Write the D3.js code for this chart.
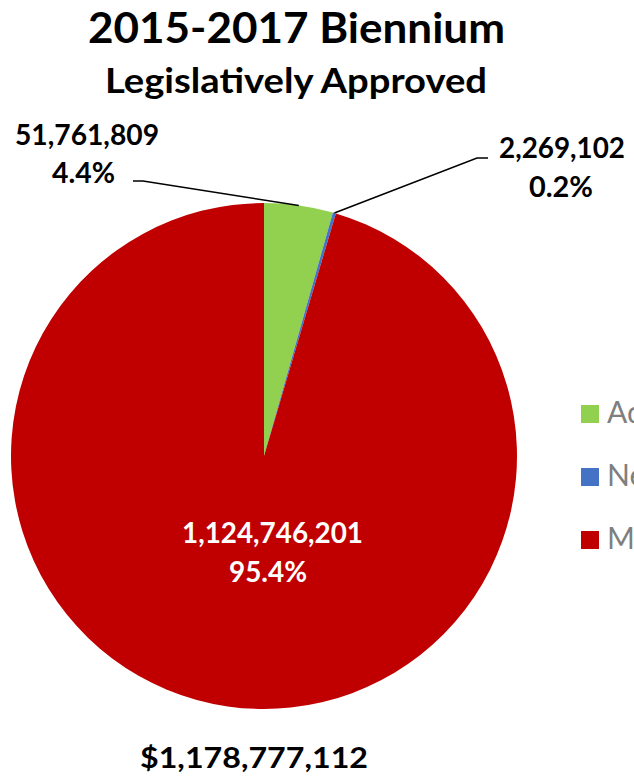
<!DOCTYPE html>
<html>
<head>
<meta charset="utf-8">
<script src="https://cdn.jsdelivr.net/npm/d3@7"></script>
<style>
  html, body { margin: 0; padding: 0; background: #fff; overflow: hidden; }
  svg { display: block; }
  text { font-family: Lato, "Open Sans", sans-serif; }
</style>
</head>
<body>
<script>
// Budget components, 2015-2017 biennium (legislatively approved)
const categories = ["Administration", "New Initiatives", "Medical Assistance"];
const values = [51761809, 2269102, 1124746201];
const titleText = "2015-2017 Biennium";
const subtitleText = "Legislatively Approved";

const W = 634, H = 779;
const cx = 264, cy = 456, R = 253;

const svg = d3.select("body").append("svg")
  .attr("width", W).attr("height", H)
  .attr("viewBox", `0 0 ${W} ${H}`);

svg.append("rect").attr("width", W).attr("height", H).attr("fill", "#fff");

const color = d3.scaleOrdinal()
  .domain(categories)
  .range(["#92D050", "#4472C4", "#C00000"]);

const total = d3.sum(values);
const fmtNum = d3.format(",");
const fmtPct = d3.format(".1%");

const rows = categories.map((c, i) => ({ name: c, value: values[i] }));

const pie = d3.pie().sort(null).value(d => d.value);
const arcs = pie(rows);
const arc = d3.arc().innerRadius(0).outerRadius(R);

const g = svg.append("g").attr("transform", `translate(${cx},${cy})`);
g.selectAll("path.slice")
  .data(arcs)
  .join("path")
  .attr("class", "slice")
  .attr("d", arc)
  .attr("fill", d => color(d.data.name));

// Helper: a text with fixed rendered width
function label(x, y, str, size, width, opts = {}) {
  const t = svg.append("text")
    .attr("x", x).attr("y", y)
    .attr("font-size", size)
    .attr("font-weight", opts.weight || 700)
    .attr("fill", opts.fill || "#000")
    .text(str);
  if (width) t.attr("textLength", width).attr("lengthAdjust", "spacingAndGlyphs");
  return t;
}

// Titles
label(88, 43, titleText, 42, 417);
label(105, 93, subtitleText, 35, 382);

// Point on the outer edge at the middle of a slice
function edgePoint(d) {
  const a = (d.startAngle + d.endAngle) / 2;
  return [cx + R * Math.sin(a), cy - R * Math.cos(a)];
}

// Outside labels with leader lines
const outside = [
  { i: 0, elbow: [143, 181], end: [133, 181],
    num: [15, 145, 144], pct: [52, 183, 63] },
  { i: 1, elbow: [477, 158], end: [488, 158],
    num: [499, 158, 126], pct: [529, 197, 64] }
];
outside.forEach(o => {
  const d = arcs[o.i];
  const p = edgePoint(d);
  svg.append("polyline")
    .attr("points", [p, o.elbow, o.end].map(q => q.join(",")).join(" "))
    .attr("fill", "none")
    .attr("stroke", "#000")
    .attr("stroke-width", 1.5);
  label(o.num[0], o.num[1], fmtNum(d.data.value), 28, o.num[2]);
  label(o.pct[0], o.pct[1], fmtPct(d.data.value / total), 28, o.pct[2]);
});

// Inside label for the largest slice
const big = arcs[2];
label(182, 543, fmtNum(big.data.value), 28, 181, { fill: "#fff" });
label(229, 582, fmtPct(big.data.value / total), 28, 78, { fill: "#fff" });

// Total
label(140, 768, "$" + fmtNum(total), 28, 228);

// Legend
const legend = svg.append("g");
const legendY = [405, 468, 531];
rows.forEach((r, i) => {
  legend.append("rect")
    .attr("x", 581).attr("y", legendY[i])
    .attr("width", 18).attr("height", 18)
    .attr("fill", color(r.name));
  legend.append("text")
    .attr("x", 607).attr("y", legendY[i] + 18)
    .attr("font-size", 30)
    .attr("fill", "#7f7f7f")
    .text(r.name);
});
</script>
</body>
</html>
